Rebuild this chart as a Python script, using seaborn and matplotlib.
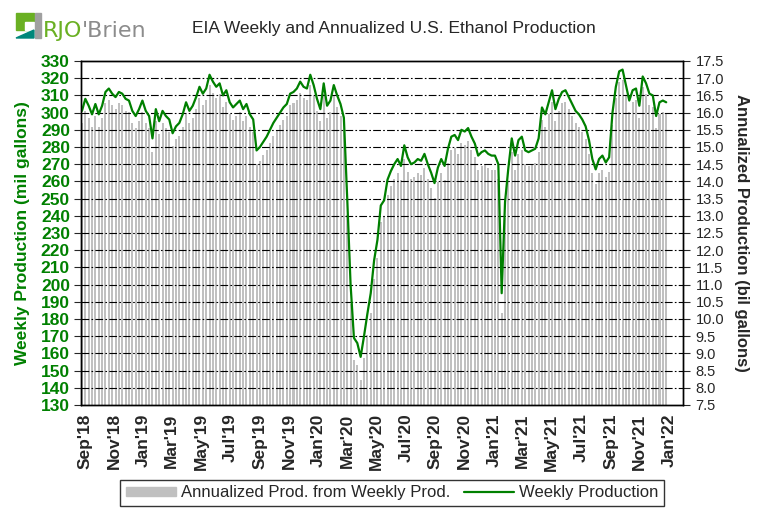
import numpy as np
import pandas as pd
import matplotlib
matplotlib.use("Agg")
import matplotlib.pyplot as plt
import matplotlib.dates as mdates
from matplotlib.patches import Rectangle, Polygon
from matplotlib.lines import Line2D
import seaborn as sns

sns.set_style("white")
plt.rcParams['font.family'] = ['Liberation Sans', 'DejaVu Sans']

# weekly ethanol production, mil gallons
weekly = [
    301, 308, 304, 299, 305, 299, 304, 312, 314, 311,
    309, 312, 311, 308, 307, 301, 298, 302, 307, 301,
    298, 285, 302, 295, 301, 298, 296, 288, 292, 294,
    299, 306, 301, 304, 309, 315, 311, 314, 322, 318,
    315, 317, 310, 313, 306, 303, 305, 307, 302, 305,
    299, 296, 278, 280, 283, 286, 290, 294, 297, 300,
    303, 305, 311, 312, 314, 318, 315, 314, 322, 316,
    308, 302, 317, 304, 307, 316, 310, 305, 297, 250,
    200, 169, 166, 158, 170, 183, 195, 214, 226, 246,
    249, 261, 266, 270, 273, 269, 281, 274, 270, 271,
    273, 272, 276, 270, 265, 259, 268, 273, 269, 279,
    286, 287, 284, 290, 289, 291, 286, 282, 275, 277,
    278, 276, 275, 275, 270, 195, 248, 268, 285, 275,
    284, 286, 278, 277, 278, 279, 285, 303, 299, 306,
    313, 302, 308, 312, 313, 309, 305, 301, 299, 296,
    292, 284, 273, 267, 273, 275, 271, 274, 300, 315,
    324, 325, 316, 307, 313, 314, 304, 321, 317, 311,
    310, 298, 306, 307, 306,
]
weeks = pd.date_range("2018-08-26", periods=len(weekly), freq="7D")
# annualized production, bil gallons
annual = [w * 365 / 7 / 1000 for w in weekly]

left_ticks = list(range(130, 331, 10))
right_ticks = [7.5 + 0.5 * k for k in range(21)]
green = "#008000"

df = pd.DataFrame({"date": mdates.date2num(weeks), "weekly": weekly, "annual": annual})

fig = plt.figure(figsize=(7.63, 5.16), dpi=100)
ax = fig.add_axes([81 / 763, 1 - 405 / 516, (683 - 81) / 763, (405 - 61) / 516])
ax2 = ax.twinx()

sns.barplot(data=df, x="date", y="annual", native_scale=True, color="#C0C0C0",
            saturation=1, width=0.6, linewidth=0, ax=ax2)
sns.lineplot(data=df, x="date", y="weekly", color=green, linewidth=1.6, ax=ax)

ax.set_zorder(ax2.get_zorder() + 1)
ax.patch.set_visible(False)

ax.set_ylim(130, 330)
ax2.set_ylim(7.5, 17.5)
ax.set_yticks(left_ticks)
ax2.set_yticks(right_ticks)
ax2.set_yticklabels([f"{t:.1f}" for t in right_ticks], fontsize=10.5)
ax.set_yticklabels([str(t) for t in left_ticks], fontsize=12.5, color=green, fontweight="bold")

for t in left_ticks[1:-1]:
    ax.axhline(t, color="black", linewidth=0.8, dashes=(7, 2, 1.5, 2), zorder=1)

ax.set_xlim(mdates.date2num(pd.Timestamp("2018-08-24")), mdates.date2num(pd.Timestamp("2022-01-30")))
ax.xaxis.set_major_locator(mdates.MonthLocator(bymonth=[1, 3, 5, 7, 9, 11]))
ax.xaxis.set_major_formatter(mdates.DateFormatter("%b'%y"))
ax.set_xticks(df["date"], minor=True)
for lab in ax.get_xticklabels():
    lab.set_rotation(90)
    lab.set_fontweight("bold")
    lab.set_fontsize(12.5)
ax.tick_params(axis="x", which="major", direction="out", length=4, width=0.8, pad=2)
ax.tick_params(axis="x", which="minor", direction="out", length=3, width=0.6)
ax.tick_params(axis="y", direction="out", length=5, width=0.8, pad=3)
ax2.tick_params(axis="y", direction="out", length=5, width=0.8, pad=4)

ax.set_xlabel("")
ax2.set_xlabel("")
ax.set_ylabel("Weekly Production (mil gallons)", color=green, fontsize=12.5, fontweight="bold", labelpad=8)
ax2.set_ylabel("Annualized Production (bil gallons)", fontsize=12, fontweight="bold",
               rotation=270, labelpad=18)

for a in (ax, ax2):
    for s in a.spines.values():
        s.set_color("black")
        s.set_linewidth(1)

fig.text(394 / 763, 1 - 28 / 516, "EIA Weekly and Annualized U.S. Ethanol Production",
         ha="center", va="center", fontsize=12.5)

# logo
fig.patches.append(Rectangle((16 / 763, 1 - 30 / 516), 18 / 763, 17 / 516,
                             transform=fig.transFigure, color="#6AB023"))
fig.patches.append(Rectangle((25 / 763, 1 - 30 / 516), 9 / 763, 8 / 516,
                             transform=fig.transFigure, color="white"))
fig.patches.append(Polygon([(16 / 763, 1 - 38 / 516), (34 / 763, 1 - 30 / 516),
                            (34 / 763, 1 - 38 / 516)],
                           transform=fig.transFigure, color="#00877A"))
fig.patches.append(Rectangle((35 / 763, 1 - 38 / 516), 6 / 763, 25 / 516,
                             transform=fig.transFigure, color="#A0A0A0"))
fig.text(43 / 763, 1 - 37 / 516, "RJO", color="#6AB023", fontsize=16,
         family=["Liberation Sans Narrow", "DejaVu Sans"], va="baseline")
fig.text(82 / 763, 1 - 37 / 516, "'Brien", color="#8C8C8C", fontsize=16,
         family=["Liberation Sans Narrow", "DejaVu Sans"], va="baseline")

handles = [Rectangle((0, 0), 1, 1, color="#C0C0C0"), Line2D([], [], color=green, linewidth=1.6)]
fig.legend(handles, ["Annualized Prod. from Weekly Prod.", "Weekly Production"],
           loc="center", bbox_to_anchor=(392 / 763, 1 - 493 / 516), ncol=2,
           fontsize=12, frameon=True, fancybox=False, edgecolor="black",
           handlelength=3, handleheight=0.5, columnspacing=0.8, handletextpad=0.3,
           borderpad=0.35)

fig.savefig("out.png", dpi=100)
